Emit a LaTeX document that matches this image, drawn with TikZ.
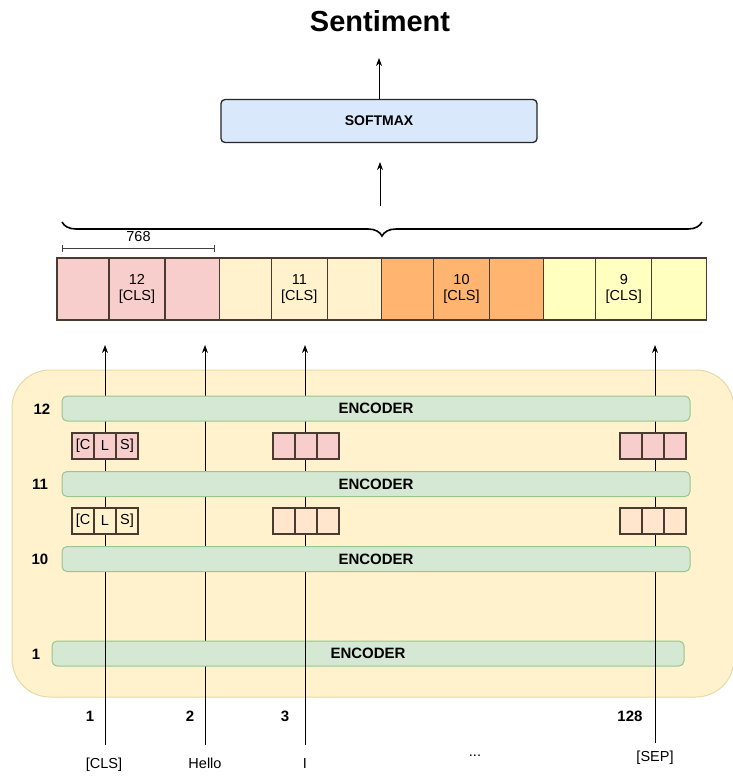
\documentclass[tikz,border=0pt]{standalone}
\usepackage{fontspec}
\setmainfont{Liberation Sans}
\usetikzlibrary{arrows.meta,decorations.pathreplacing,positioning}

\definecolor{softblue}{HTML}{DAE8FC}
\definecolor{encgreen}{HTML}{D5E8D4}
\definecolor{encline}{HTML}{9CC48F}
\definecolor{stackbg}{HTML}{FFF2CC}
\definecolor{stackline}{HTML}{E9D9A6}
\definecolor{clspink}{HTML}{F8CECC}
\definecolor{clscream}{HTML}{FFF2CC}
\definecolor{clsorange}{HTML}{FFB570}
\definecolor{clsyellow}{HTML}{FFFFC0}
\definecolor{clspeach}{HTML}{FFE6CC}
\definecolor{cellline}{HTML}{4A3B30}

\tikzset{
  encoder/.style={draw=encline, fill=encgreen, line width=1pt, rounded corners=5pt,
    minimum height=25pt, inner sep=0pt, font=\bfseries\fontsize{15}{17}\selectfont},
  layer/.style={font=\bfseries\fontsize{15}{17}\selectfont},
  token/.style={font=\fontsize{14.5}{16}\selectfont, anchor=north, inner sep=1pt},
  cell/.style={draw=cellline, line width=1.1pt},
  minicell/.style={draw=cellline, line width=1.1pt, minimum width=22pt, minimum height=26pt,
    inner sep=0pt, outer sep=0pt, font=\fontsize{14.5}{16}\selectfont},
}

\begin{document}
\begin{tikzpicture}[x=1pt,y=-1pt,>={Stealth[length=8pt,width=6pt]}]
  \useasboundingbox (0,0) rectangle (733,776);

  % output head
  \node[font=\bfseries\fontsize{29}{32}\selectfont] (title) at (380,21) {Sentiment};
  \node[draw=black!85, fill=softblue, line width=1.3pt, rounded corners=4pt,
    minimum width=316pt, minimum height=43pt, font=\bfseries\fontsize{14}{16}\selectfont]
    (soft) at (379,121) {SOFTMAX};
  \coordinate (out) at (379,58);
  \draw[->, line width=0.9pt] (soft.north) -- (out);

  \draw[line width=1.6pt, decorate, decoration={brace, amplitude=14pt, mirror}]
    (62,222) -- (702,222);
  \coordinate (tip) at (380,206);
  \coordinate (softin) at (380,162);
  \draw[->, line width=0.9pt] (tip) -- (softin);

  \draw[{Bar[width=7pt]}-{Bar[width=7pt]}, line width=0.8pt, draw=black!75] (62,248) -- (215,248)
    node[midway, above=3pt, font=\fontsize{14.5}{16}\selectfont] (dim) {768};

  % concatenated [CLS] vectors
  \foreach \x/\c/\n in {57/clspink/12, 219.3/clscream/11, 381.5/clsorange/10, 543.8/clsyellow/9} {
    \draw[cell, fill=\c] (\x,258) rectangle (\x+52,320);
    \draw[cell, fill=\c] (\x+52,258) rectangle (\x+108,320);
    \draw[cell, fill=\c] (\x+108,258) rectangle (\x+162.3,320);
    \node[align=center, font=\fontsize{14.5}{16}\selectfont] (v\n) at (\x+80,289) {\n\\{[CLS]}};
  }

  % encoder stack
  \draw[draw=stackline, fill=stackbg, line width=1pt, rounded corners=38pt] (12,370) rectangle (734,697);

  \node[token] (tCLS) at (104,757) {[CLS]};
  \node[token] (tHello) at (205,757) {Hello};
  \node[token] (tI) at (305,757) {I};
  \node[token] (tdots) at (475,754) {...};
  \node[token] (tSEP) at (655,750) {[SEP]};

  \coordinate (in1) at (105,345);
  \coordinate (in2) at (205,345);
  \coordinate (in3) at (305,345);
  \coordinate (in128) at (655,345);

  \draw[->, line width=0.9pt, shorten <=12pt] (tHello.north) -- (in2);
  \node[encoder, minimum width=632pt] (enc1) at (368,653.5) {ENCODER};
  \draw[->, line width=0.9pt, shorten <=12pt] (tCLS.north -| in1) -- (in1);
  \draw[->, line width=0.9pt, shorten <=12pt] (tI.north) -- (in3);
  \draw[->, line width=0.9pt, shorten <=7pt] (tSEP.north) -- (in128);

  \node[encoder, minimum width=628pt] (enc12) at (376,408.5) {ENCODER};
  \node[encoder, minimum width=628pt] (enc11) at (376,484) {ENCODER};
  \node[encoder, minimum width=628pt] (enc10) at (376,559) {ENCODER};

  \node[layer] (l12) at (42,409) {12};
  \node[layer] (l11) at (40,484) {11};
  \node[layer] (l10) at (40,559) {10};
  \node[layer] (l1) at (36,654) {1};

  % per-layer token outputs
  \foreach \y/\c/\d in {446/clspink/clspink, 521/clscream/clspeach} {
    \node[minicell, fill=\c] (a\y) at (83,\y) {[C};
    \node[minicell, fill=\c, right=0pt of a\y] (b\y) {L};
    \node[minicell, fill=\c, right=0pt of b\y] (c\y) {S]};
    \foreach \x/\m in {284/m, 631/r} {
      \node[minicell, fill=\d] (\m a\y) at (\x,\y) {};
      \node[minicell, fill=\d, right=0pt of \m a\y] (\m b\y) {};
      \node[minicell, fill=\d, right=0pt of \m b\y] (\m c\y) {};
    }
  }

  % positions
  \node[layer] (p1) at (90,716) {1};
  \node[layer] (p2) at (190,716) {2};
  \node[layer] (p3) at (285,716) {3};
  \node[layer] (p128) at (630,716) {128};
\end{tikzpicture}
\end{document}
